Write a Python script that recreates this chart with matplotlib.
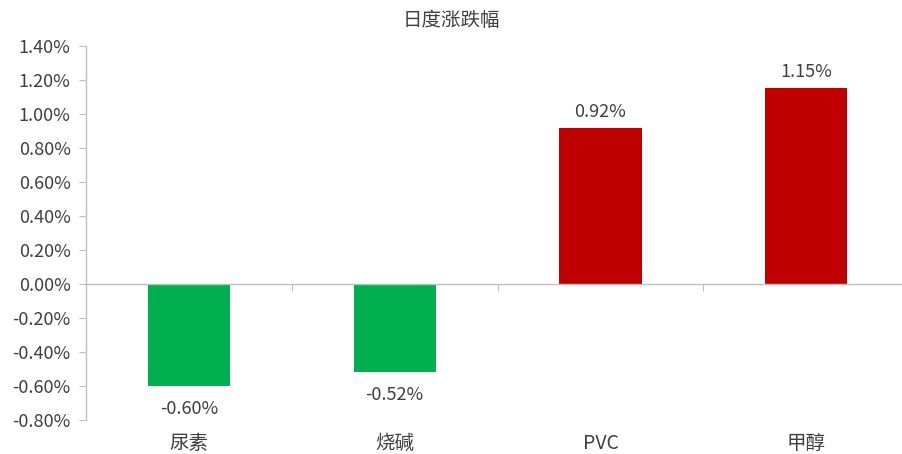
import matplotlib
matplotlib.use("Agg")
import matplotlib.pyplot as plt
from matplotlib.ticker import FuncFormatter, MultipleLocator
import matplotlib.transforms as mtransforms

plt.rcParams['font.family'] = ['Noto Sans CJK SC', 'DejaVu Sans']

categories = ["尿素", "烧碱", "PVC", "甲醇"]
values = [-0.60, -0.52, 0.92, 1.15]  # percent
title = "日度涨跌幅"

text_color = "#404040"
axis_color = "#bfbfbf"
colors = ["#00b050" if v < 0 else "#c00000" for v in values]

fig = plt.figure(figsize=(9.03, 4.54), dpi=100)
ax = fig.add_axes([0.0952, 0.0749, 0.9048, 0.8238])

x = list(range(len(categories)))
ax.bar(x, values, width=0.40, color=colors, zorder=2)

ax.set_xlim(-0.5, 3.47)
ax.set_ylim(-0.8, 1.4)
ax.yaxis.set_major_locator(MultipleLocator(0.2))
ax.yaxis.set_major_formatter(FuncFormatter(lambda v, p: f"{v:.2f}%"))

# x axis line at zero, ticks between categories
ax.spines['bottom'].set_position(('data', 0))
ax.spines['top'].set_visible(False)
ax.spines['right'].set_visible(False)
for s in ['left', 'bottom']:
    ax.spines[s].set_color(axis_color)
    ax.spines[s].set_linewidth(1.0)
ax.set_xticks([i + 0.5 for i in range(len(categories) - 1)])
ax.set_xticklabels([])
ax.tick_params(axis='x', direction='out', length=5, color=axis_color)
ax.tick_params(axis='y', direction='out', length=5, color=axis_color,
               labelsize=13, labelcolor=text_color, pad=6)

trans = mtransforms.blended_transform_factory(ax.transData, ax.transAxes)
for i, name in enumerate(categories):
    ax.text(i, -0.064, name, transform=trans, ha='center', va='center',
            fontsize=14, color=text_color)

for i, v in enumerate(values):
    off = 16 if v > 0 else -23
    ax.annotate(f"{v:.2f}%", (i, v), xytext=(0, off), textcoords='offset pixels',
                ha='center', va='center', fontsize=13, color=text_color)

fig.text(0.5, 1 - 21 / 454, title, ha='center', va='center',
         fontsize=14, color=text_color)

fig.savefig("out.png", dpi=100)
